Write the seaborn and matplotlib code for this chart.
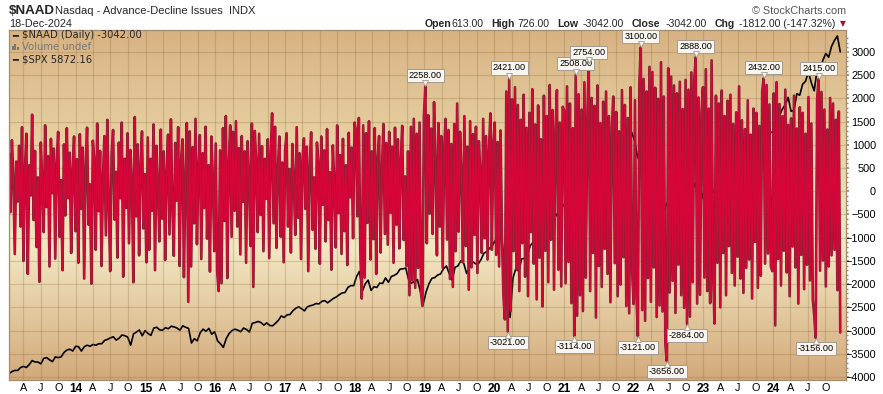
import numpy as np
import pandas as pd
import matplotlib
matplotlib.use("Agg")
import matplotlib.pyplot as plt
import matplotlib.dates as mdates
import matplotlib.transforms as mtransforms
from matplotlib.patches import Rectangle
import seaborn as sns

# $NAAD daily readings, thinned to ~48 per year
naad_2013 = [820, -450, 1100, 310, -1350, 640, -220, 980, -760, 1380,
             -1500, 420, 1240, -1780, 560, -90, 1650, -620, 870, -1200,
             300, -1950, 1050, 180, -880, 1420, -340, 760, -1620, 1130,
             -40, 920, -1450, 610, 1280, -980, 240, -1700, 1010, -520,
             1360, -150, 830, -1330, 450, 1180, -860, 690]
naad_2014 = [-1540, 1230, -380, 940, -1880, 520, 1370, -720, 150, -1990,
             1090, 660, -1260, 1460, -430, 870, -1610, 310, 1190, -950,
             1540, -280, -1720, 780, 1320, -610, 420, -1430, 1050, -150,
             1480, -1840, 700, -360, 1250, -1120, 890, 240, -1960, 1600,
             -540, 1010, -1380, 560, 1290, -800, 370, -1530]
naad_2015 = [1160, -1260, 700, -420, 1440, -1700, 980, 120, -1080, 1330,
             -590, 860, -1480, 410, 1220, -930, 1550, -320, -1390, 1040,
             -200, 1380, -1610, 640, 1120, -1850, 320, 1470, -2380, 1290,
             -1620, 950, -690, 1560, -1140, 480, 1210, -1460, 820, -360,
             1390, -1020, 560, -1730, 1180, 260, -1290, 1030]
naad_2016 = [-1720, -2150, 880, -1980, 1360, -640, 1620, -1870, 540, 1420,
             -980, 1280, -420, 1510, -760, 930, -1360, 1190, -230, 860,
             -1540, 1080, 340, -1180, 1460, -2060, 1300, 620, -880, 1240,
             -510, 970, -1290, 700, -160, 1120, -1440, 810, 1680, -690,
             1390, -1220, 450, 1180, -980, 620, -1530, 880]
naad_2017 = [1250, -760, 480, -1320, 1020, 230, -940, 1380, -570, 820,
             -1460, 690, 1140, -380, 960, -1720, 540, 1270, -830, 300,
             -1240, 1050, 620, -1560, 1180, -290, 880, -1080, 1340, -620,
             410, -1690, 990, 150, -1210, 1420, -470, 780, -1350, 1130,
             -860, 560, -1590, 1260, -130, 940, -1010, 1480]
naad_2018 = [1310, -540, 1580, -1290, -2310, 1420, -1860, 1250, -680, 1510,
             -1470, 860, -1030, 1360, -1780, 720, 1190, -1320, 480, 1450,
             -920, 1040, -1150, 1280, -460, 960, -1540, 1370, -720, 1120,
             -1230, 690, 1410, -1050, 320, -1610, 860, -2240, 1390, -1920,
             1560, -2080, 1240, -1650, 1480, -2190, -2470, 1620]
naad_2019 = [2258, -1120, 1640, -480, 1350, -920, 1920, 620, -1380, 1470,
             -760, 1190, -1650, 880, 1560, -1040, 1320, -1890, 1020, -2060,
             1450, -1290, 1890, -870, 1280, 390, -1530, 1620, -1180, 960,
             -2120, 1510, -1640, 1230, -940, 1390, -1760, 1080, 420, -1330,
             1560, -1010, 1190, -1470, 890, 1680, -1260, 1050]
naad_2020 = [1480, -1370, 1060, -1620, 1310, -980, -2240, -2760, 2150, -3021,
             2421, -2580, 1980, -1290, 2240, -1680, 1860, -2150, 1540, -1120,
             2080, -1840, 1370, -2260, 1690, -880, 2200, -1560, 1440, -2330,
             1850, -1430, 1120, -2480, 2060, -1280, 1620, -1960, 2290, -1040,
             1750, -2120, 1310, 2180, -1690, 1480, -2050, 1820]
naad_2021 = [1740, -1980, 2260, -1520, 1890, -2410, 1360, -3114, 2508, -2680,
             2090, -2240, 1760, -2580, 2350, -1860, 1540, 2754, -2150, 2010,
             -1330, 1840, -2720, 2280, -1610, 1470, -2060, 1930, -1240, 2150,
             -1780, 1620, -2390, 1380, 2040, -1550, 1710, -2260, 1290, -2010,
             2180, -1420, 1860, -2470, 1580, -2630, 2240, -1690]
naad_2022 = [-2430, 1960, -2240, -3121, 2310, 3100, -2560, 2420, -2790, 2150,
             -1870, 2680, -2380, 2570, -1640, 2230, -2710, 1990, -2460, 2780,
             -2590, 2040, -3280, -3656, 2650, -2180, 2470, -1930, 2280, -2620,
             2110, -1580, 2360, -2240, 1770, -2510, 2400, -2864, 2190, -2700,
             2560, -1960, 2380, 2888, -2420, 2020, -2230, 1680]
naad_2023 = [2240, -1860, 2630, -2150, 1780, -2410, 2820, -1690, -2850, 2060,
             -1540, 1890, -2500, 2170, -1330, 1620, -2240, 1950, -1180, 2080,
             -1760, 1450, -2030, 1700, -1410, 2260, -1880, 1530, -2190, 1340,
             -1650, 1960, -1470, 1220, -2310, 1780, -1090, 1690, -2080, 1410,
             -1820, 2150, 2432, -1560, 2290, -1340, 1870, -1620]
naad_2024 = [-1720, 2110, -2890, 2350, -1460, 1880, -2030, 1620, -1280, 2190,
             -1750, 1430, -2260, 1570, -1190, 2060, -1640, 1350, -2420, 1810,
             -1370, 1690, -2110, 1240, -1580, 2030, -1920, 1460, -2330, -2680,
             -3156, 1980, 2415, -1710, 2140, -1490, 1760, -2050, 1330, -1620,
             2010, -1380, 1890, -1260, 1540, -2130, 1720, -3042]

# $SPX overlay, two readings per month
spx_2013 = [1470, 1500, 1515, 1515, 1555, 1570, 1555, 1595, 1650, 1630, 1630, 1605,
            1680, 1690, 1660, 1635, 1700, 1690, 1700, 1760, 1795, 1805, 1780, 1845]
spx_2014 = [1840, 1780, 1840, 1860, 1845, 1870, 1860, 1880, 1880, 1925, 1940, 1960,
            1975, 1930, 1955, 2000, 1990, 1970, 1860, 2015, 2040, 2068, 1990, 2060]
spx_2015 = [2020, 1995, 2095, 2105, 2070, 2065, 2100, 2085, 2120, 2110, 2095, 2065,
            2125, 2105, 2090, 1890, 1950, 1920, 2030, 2080, 2050, 2090, 2010, 2045]
spx_2016 = [1920, 1880, 1830, 1950, 2020, 2060, 2080, 2065, 2045, 2095, 2075, 2040,
            2160, 2170, 2185, 2170, 2135, 2165, 2130, 2125, 2160, 2200, 2260, 2240]
spx_2017 = [2275, 2280, 2330, 2365, 2385, 2360, 2330, 2385, 2400, 2410, 2430, 2425,
            2460, 2470, 2440, 2470, 2500, 2520, 2550, 2575, 2580, 2650, 2675, 2675]
spx_2018 = [2800, 2870, 2600, 2700, 2750, 2610, 2660, 2650, 2710, 2705, 2780, 2720,
            2800, 2815, 2840, 2900, 2905, 2915, 2750, 2710, 2730, 2760, 2600, 2420]
spx_2019 = [2590, 2700, 2775, 2785, 2820, 2835, 2905, 2945, 2840, 2750, 2925, 2945,
            3015, 2980, 2840, 2925, 3005, 2975, 2970, 3035, 3120, 3140, 3190, 3230]
spx_2020 = [3300, 3225, 3380, 3000, 2700, 2240, 2780, 2910, 2870, 3040, 3050, 3100,
            3225, 3270, 3380, 3500, 3400, 3300, 3480, 3300, 3590, 3640, 3700, 3750]
spx_2021 = [3800, 3715, 3930, 3810, 3960, 3970, 4180, 4180, 4170, 4200, 4250, 4300,
            4350, 4400, 4470, 4520, 4450, 4310, 4470, 4600, 4690, 4570, 4670, 4770]
spx_2022 = [4660, 4430, 4380, 4300, 4250, 4530, 4390, 4130, 4000, 4130, 3670, 3790,
            3860, 4130, 4280, 3960, 3870, 3590, 3680, 3870, 3990, 4080, 3850, 3840]
spx_2023 = [3990, 4070, 4080, 3970, 3920, 4110, 4140, 4170, 4120, 4180, 4400, 4450,
            4510, 4590, 4450, 4440, 4450, 4290, 4330, 4120, 4500, 4560, 4720, 4770]
spx_2024 = [4780, 4850, 5000, 5090, 5150, 5250, 5060, 5070, 5300, 5280, 5430, 5470,
            5600, 5450, 5340, 5630, 5630, 5760, 5850, 5800, 5950, 6030, 6090, 5872]

peak_labels = [2258, 2421, -3021, 2508, 2754, -3114, 3100, -3121,
               -3656, -2864, 2888, 2432, 2415, -3156]

naad = np.array(naad_2013 + naad_2014 + naad_2015 + naad_2016 + naad_2017 + naad_2018
                + naad_2019 + naad_2020 + naad_2021 + naad_2022 + naad_2023 + naad_2024,
                dtype=float)
spx = np.array(spx_2013 + spx_2014 + spx_2015 + spx_2016 + spx_2017 + spx_2018
               + spx_2019 + spx_2020 + spx_2021 + spx_2022 + spx_2023 + spx_2024,
               dtype=float)

t0, t1 = pd.Timestamp("2013-01-16"), pd.Timestamp("2024-12-18")
naad_dates = pd.to_datetime(np.linspace(t0.value, t1.value, len(naad)).astype("int64"))
spx_dates = pd.to_datetime(np.linspace(t0.value, t1.value, len(spx)).astype("int64"))

sns.set_theme(style="white")
plt.rcParams["font.family"] = ["Liberation Sans", "DejaVu Sans"]

W, H = 883, 394
fig = plt.figure(figsize=(W / 100, H / 100), dpi=100)
fig.patch.set_facecolor("white")

L, R, T, B = 9, 846, 30, 380
rect = [L / W, 1 - B / H, (R - L) / W, (B - T) / H]

def px(x, y):
    return x / W, 1 - y / H

# tan-cream-tan background gradient
bg = fig.add_axes(rect, zorder=-1)
stops = [0.0, 0.35, 0.62, 1.0]
cols = np.array([[215, 178, 131], [233, 212, 165], [243, 232, 195], [210, 169, 122]]) / 255
yy = np.linspace(0, 1, 400)
grad = np.stack([np.interp(yy, stops, cols[:, c]) for c in range(3)], axis=-1)[:, None, :]
bg.imshow(grad, aspect="auto", extent=[0, 1, 0, 1])
bg.axis("off")

ax = fig.add_axes(rect)
ax2 = ax.twinx()
ax.set_zorder(2)
ax2.set_zorder(1)
ax.patch.set_visible(False)
ax2.patch.set_visible(False)

sns.lineplot(x=spx_dates, y=spx, ax=ax2, color="black", lw=1.2, estimator=None)
ax2.set_ylim(1384, 6172)
ax2.set_yticks([])
ax2.set_ylabel("")
for sp in ax2.spines.values():
    sp.set_visible(False)

sns.lineplot(x=naad_dates, y=naad, ax=ax, color="#7d2630", lw=1.9,
             estimator=None, sort=False)
sns.lineplot(x=naad_dates, y=naad, ax=ax, color="#d6063a", lw=1.1,
             estimator=None, sort=False)

ax.set_xlim(pd.Timestamp("2013-01-16"), pd.Timestamp("2025-01-17"))
ax.set_ylim(-4065, 3474)
ax.set_xlabel("")
ax.set_ylabel("")

edge = "#a38b6e"
for sp in ax.spines.values():
    sp.set_color(edge)
    sp.set_linewidth(0.9)
    sp.set_visible(True)

ax.yaxis.tick_right()
ax.set_yticks(np.arange(-4000, 3001, 500))
ax.set_yticks(np.arange(-4000, 3400, 100), minor=True)
ax.tick_params(axis="y", which="major", length=2.5, color=edge, labelsize=7.8,
               pad=19, labelcolor="black")
ax.tick_params(axis="y", which="minor", length=1.2, color=edge)
for lbl in ax.get_yticklabels():
    lbl.set_horizontalalignment("right")

quarters = pd.date_range("2013-04-01", "2024-10-01", freq="QS")
qlabels = [f"{q.year % 100:02d}" if q.month == 1 else {4: "A", 7: "J", 10: "O"}[q.month]
           for q in quarters]
ax.set_xticks(mdates.date2num(quarters))
ax.set_xticklabels(qlabels)
ax.tick_params(axis="x", length=0, pad=2.5, labelsize=7.8, labelcolor="black")
for lbl, q in zip(ax.get_xticklabels(), quarters):
    if q.month == 1:
        lbl.set_fontweight("bold")
        lbl.set_fontsize(8.6)

ax.grid(True, which="major", color="#8a6434", alpha=0.25, lw=0.9)
ax.set_axisbelow(True)

# peak / trough value tags
for v in peak_labels:
    i = int(np.where(naad == v)[0][0])
    d = mdates.date2num(naad_dates[i])
    up = v > 0
    ax.annotate(f"{v:.2f}", xy=(d, v), xytext=(0, 4.6 if up else -4.6),
                textcoords="offset points", ha="center",
                va="bottom" if up else "top", fontsize=6.6, color="black",
                bbox=dict(boxstyle="square,pad=0.22", fc="#f8f5ee", ec="#a59b91", lw=0.7),
                zorder=6)
    tr = mtransforms.offset_copy(ax.transData, fig=fig, y=2.3 if up else -2.3, units="points")
    ax.plot([d], [v], marker="v" if up else "^", ms=4.2, mfc="#f8f5ee", mec="#a59b91",
            mew=0.6, transform=tr, zorder=7, clip_on=False)

# header
fig.text(*px(9, 11), r"\$NAAD", fontsize=9.6, fontweight="bold", va="center")
fig.text(*px(55, 11), "Nasdaq - Advance-Decline Issues  INDX", fontsize=8, va="center")
fig.text(*px(9, 24), "18-Dec-2024", fontsize=7.8, va="center")
fig.text(*px(846, 11), "© StockCharts.com", fontsize=7.8, va="center", ha="right",
         color="#555555")
hdr = [(425, "Open", True), (451, "613.00", False), (491, "High", True),
       (517, "726.00", False), (557, "Low", True), (583, "-3042.00", False),
       (632, "Close", True), (666, "-3042.00", False), (715, "Chg", True),
       (739, "-1812.00 (-147.32%)", False)]
for x, s, b in hdr:
    fig.text(*px(x, 24), s, fontsize=7.6, va="center",
             fontweight="bold" if b else "normal")
fig.text(*px(840, 24), "▼", fontsize=5.5, va="center", color="#a3122e",
         family=["DejaVu Sans"])

# legend block
leg_font = ["DejaVu Sans"]
fig.text(*px(12, 35), "━", fontsize=7, va="center", family=leg_font)
fig.text(*px(22, 35), r"\$NAAD (Daily) -3042.00", fontsize=7.2, va="center", family=leg_font)
for bx, bh in [(12, 4), (14.5, 6), (17, 3.5)]:
    fig.add_artist(Rectangle(px(bx, 50), 1.6 / W, bh / H, transform=fig.transFigure,
                             color="#777777", lw=0))
fig.text(*px(22, 47), "Volume undef", fontsize=7.2, va="center", color="#777777",
         family=leg_font)
fig.text(*px(12, 59), "━", fontsize=7, va="center", family=leg_font)
fig.text(*px(22, 59), r"\$SPX 5872.16", fontsize=7.2, va="center", family=leg_font)

fig.savefig("out.png", dpi=100, facecolor="white")
